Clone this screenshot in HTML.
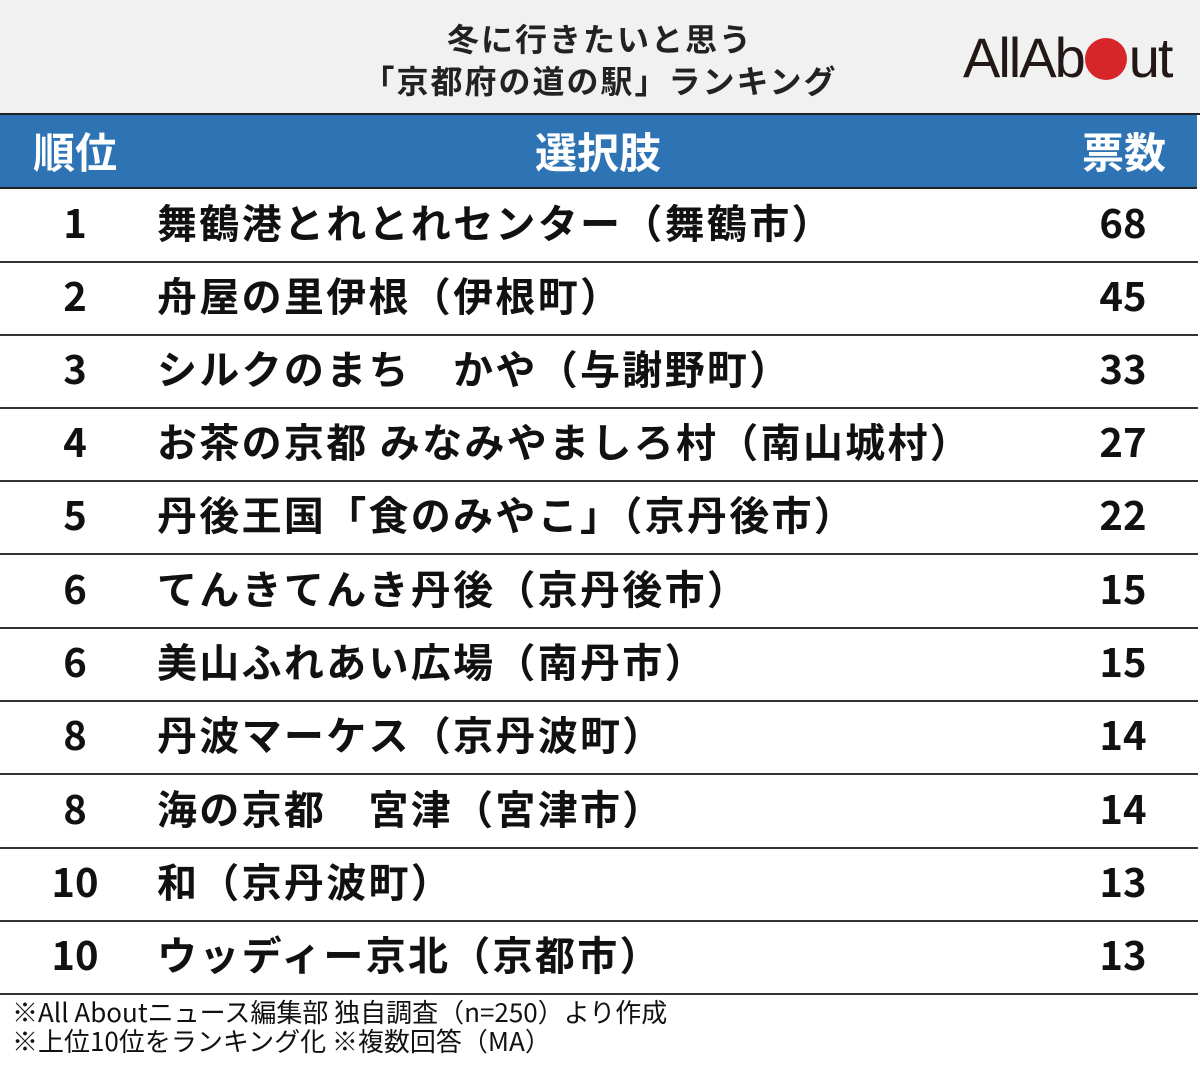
<!DOCTYPE html><html><head><meta charset="utf-8"><style>
body{margin:0;width:1200px;height:1069px;background:#fff;position:relative;overflow:hidden;font-family:"Liberation Sans","Noto Sans CJK JP",sans-serif;}
.a{position:absolute;}
.t{left:0;width:1200px;text-align:center;font-weight:bold;font-size:32px;letter-spacing:2px;color:#222;line-height:40px;}
.row{position:absolute;left:0;width:1198px;height:73px;border-bottom:2px solid #333;font-weight:bold;font-size:40px;color:#111;line-height:66px;font-family:"Noto Sans CJK JP",sans-serif;}
.r{position:absolute;left:25px;width:100px;text-align:center;}
.n{position:absolute;left:157px;white-space:nowrap;letter-spacing:2.3px;}
.c{position:absolute;left:1073px;width:100px;text-align:center;}
</style></head><body>
<div class="a" style="left:0;top:0;width:1200px;height:113px;background:#f1f1f1;border-bottom:2px solid #222;"></div>
<div class="a t" style="top:18px;font-family:'Noto Sans CJK JP',sans-serif;">冬に行きたいと思う</div>
<div class="a t" style="top:60px;font-family:'Noto Sans CJK JP',sans-serif;">「京都府の道の駅」ランキング</div>
<div class="a" style="left:963px;top:26px;font-size:56px;letter-spacing:-2px;color:#231815;line-height:64px;font-family:'Liberation Sans',sans-serif;">AllAb<span style="display:inline-block;width:42px;height:42px;border-radius:50%;background:#d7262a;vertical-align:-3px;margin:0 2px 0 1px"></span>ut</div>
<div class="a" style="left:0;top:115px;width:1197px;height:72px;background:#2e74b5;border-bottom:2px solid #222;color:#fff;font-weight:bold;font-size:42px;line-height:72px;font-family:'Noto Sans CJK JP',sans-serif;">
<span class="a" style="left:33px">順位</span><span class="a" style="left:535px">選択肢</span><span class="a" style="left:1082px">票数</span></div>
<div class="row" style="top:188px"><span class="r">1</span><span class="n">舞鶴港とれとれセンター（舞鶴市）</span><span class="c">68</span></div>
<div class="row" style="top:261px"><span class="r">2</span><span class="n">舟屋の里伊根（伊根町）</span><span class="c">45</span></div>
<div class="row" style="top:334px"><span class="r">3</span><span class="n">シルクのまち　かや（与謝野町）</span><span class="c">33</span></div>
<div class="row" style="top:407px"><span class="r">4</span><span class="n">お茶の京都 みなみやましろ村（南山城村）</span><span class="c">27</span></div>
<div class="row" style="top:480px"><span class="r">5</span><span class="n">丹後王国「食のみやこ」（京丹後市）</span><span class="c">22</span></div>
<div class="row" style="top:554px"><span class="r">6</span><span class="n">てんきてんき丹後（京丹後市）</span><span class="c">15</span></div>
<div class="row" style="top:627px"><span class="r">6</span><span class="n">美山ふれあい広場（南丹市）</span><span class="c">15</span></div>
<div class="row" style="top:700px"><span class="r">8</span><span class="n">丹波マーケス（京丹波町）</span><span class="c">14</span></div>
<div class="row" style="top:774px"><span class="r">8</span><span class="n">海の京都　宮津（宮津市）</span><span class="c">14</span></div>
<div class="row" style="top:847px"><span class="r">10</span><span class="n">和（京丹波町）</span><span class="c">13</span></div>
<div class="row" style="top:920px"><span class="r">10</span><span class="n">ウッディー京北（京都市）</span><span class="c">13</span></div>
<div class="a" style="left:12px;top:997px;font-size:26px;line-height:29px;color:#111;font-family:'Noto Sans CJK JP',sans-serif;">※All Aboutニュース編集部 独自調査（n=250）より作成<br>※上位10位をランキング化 ※複数回答（MA）</div>
</body></html>
